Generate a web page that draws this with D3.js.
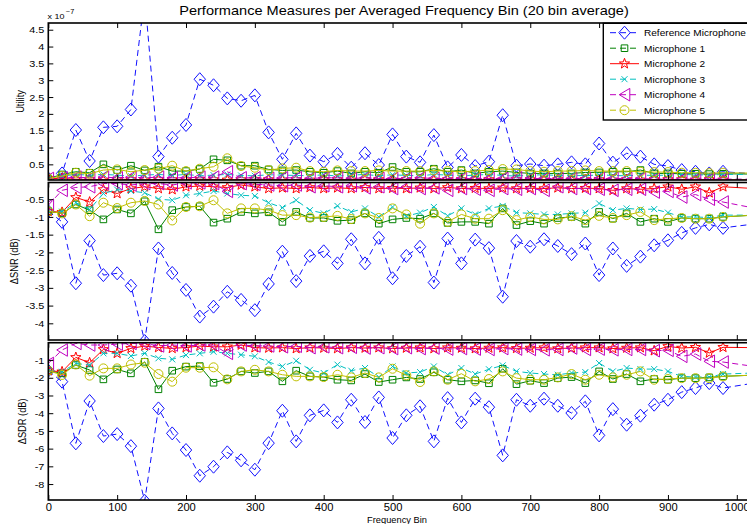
<!DOCTYPE html>
<html><head><meta charset="utf-8">
<script src="https://cdn.jsdelivr.net/npm/d3@7"></script>
<style>body{margin:0;background:#fff}svg{display:block;font-family:"Liberation Sans",Arial,Helvetica,sans-serif}</style>
</head><body>
<script>
// ---------- data ----------
const bins = [0,20,40,60,80,100,120,140,160,180,200,220,240,260,280,300,320,340,360,380,400,420,440,460,480,500,520,540,560,580,600,620,640,660,680,700,720,740,760,780,800,820,840,860,880,900,920,940,960,980,1025];
const seriesNames = ["Reference Microphone","Microphone 1","Microphone 2","Microphone 3","Microphone 4","Microphone 5"];
const xTicks = [0,100,200,300,400,500,600,700,800,900,1000];
const utilityTicks = [0.5,1,1.5,2,2.5,3,3.5,4,4.5];
const snrTicks = [-0.5,-1,-1.5,-2,-2.5,-3,-3.5,-4];
const sdrTicks = [-1,-2,-3,-4,-5,-6,-7,-8];

// Utility (x 1e-7)
const utilRef  = [0.08,0.23,1.52,0.6,1.6,1.63,2.13,5.5,0.73,1.29,1.67,3.03,2.85,2.46,2.39,2.55,1.45,0.65,1.42,0.76,0.58,0.81,0.4,0.83,0.48,1.39,0.73,0.56,1.37,0.41,0.78,0.45,0.58,1.96,0.46,0.51,0.46,0.5,0.56,0.5,1.12,0.55,0.83,0.73,0.5,0.45,0.33,0.28,0.23,0.28,0.22];
const utilMic1 = [0.08,0.2,0.28,0.25,0.5,0.33,0.46,0.32,0.43,0.3,0.3,0.36,0.65,0.62,0.46,0.46,0.35,0.32,0.33,0.28,0.25,0.3,0.23,0.28,0.25,0.42,0.28,0.28,0.37,0.28,0.33,0.23,0.28,0.3,0.26,0.23,0.23,0.23,0.23,0.26,0.26,0.28,0.28,0.33,0.23,0.23,0.22,0.22,0.21,0.22,0.21];
const utilMic2 = [0.08,0.08,0.06,0.05,0.04,0.06,0.05,0.04,0.05,0.05,0.04,0.06,0.05,0.04,0.05,0.06,0.05,0.04,0.05,0.04,0.05,0.05,0.04,0.05,0.05,0.04,0.05,0.05,0.04,0.05,0.05,0.04,0.05,0.04,0.05,0.05,0.04,0.05,0.04,0.05,0.05,0.04,0.05,0.04,0.05,0.05,0.05,0.04,0.05,0.04,0.04];
const utilMic3 = [0.08,0.15,0.2,0.18,0.2,0.18,0.15,0.18,0.2,0.17,0.2,0.16,0.18,0.2,0.17,0.16,0.19,0.18,0.17,0.16,0.19,0.15,0.18,0.2,0.16,0.19,0.17,0.16,0.2,0.18,0.16,0.18,0.2,0.17,0.15,0.18,0.19,0.17,0.18,0.16,0.19,0.17,0.16,0.18,0.17,0.18,0.2,0.19,0.18,0.2,0.2];
const utilMic4 = [0.08,0.1,0.12,0.1,0.12,0.1,0.12,0.1,0.12,0.1,0.1,0.12,0.12,0.28,0.1,0.1,0.08,0.1,0.1,0.08,0.1,0.1,0.08,0.1,0.08,0.08,0.08,0.1,0.08,0.08,0.08,0.08,0.08,0.08,0.1,0.08,0.08,0.08,0.08,0.08,0.08,0.08,0.08,0.08,0.06,0.06,0.06,0.06,0.06,0.06,0.06];
const utilMic5 = [0.08,0.15,0.25,0.22,0.33,0.35,0.28,0.33,0.37,0.46,0.3,0.37,0.43,0.68,0.45,0.4,0.33,0.38,0.4,0.3,0.28,0.32,0.3,0.3,0.32,0.3,0.3,0.3,0.32,0.3,0.28,0.3,0.33,0.36,0.35,0.3,0.28,0.3,0.3,0.32,0.3,0.3,0.3,0.28,0.27,0.27,0.25,0.25,0.24,0.25,0.24];

// Delta SNR (dB)
const snrRef  = [-0.84,-1.14,-2.87,-1.67,-2.64,-2.59,-2.94,-4.5,-1.89,-2.58,-3.06,-3.81,-3.53,-3.11,-3.34,-3.63,-2.89,-1.98,-2.81,-2.1,-1.97,-2.31,-1.63,-2.31,-1.59,-2.73,-2.1,-1.84,-2.85,-1.61,-2.31,-1.64,-1.88,-3.25,-1.68,-1.84,-1.63,-1.82,-2.05,-1.75,-2.64,-1.89,-2.38,-2.12,-1.8,-1.66,-1.45,-1.31,-1.21,-1.31,-1.2];
const snrMic1 = [-0.84,-0.9,-0.65,-0.81,-1.07,-0.79,-0.9,-0.56,-1.35,-0.81,-0.72,-0.7,-1.16,-1.05,-0.86,-0.9,-0.87,-1.14,-0.86,-1.03,-1.03,-1.11,-1.09,-0.9,-1.19,-1.07,-1.03,-1.05,-0.9,-1.17,-1.14,-1.14,-1.19,-0.76,-1.23,-1.12,-1.19,-1.03,-1.0,-1.19,-0.86,-1.05,-0.9,-1.14,-1.05,-1.14,-1.03,-1.05,-1.05,-1.0,-0.95];
const snrMic2 = [-0.84,-0.87,-0.45,-0.58,-0.23,-0.34,-0.2,-0.15,-0.2,-0.23,-0.15,-0.13,-0.15,-0.17,-0.1,-0.15,-0.2,-0.18,-0.2,-0.17,-0.2,-0.18,-0.2,-0.17,-0.2,-0.19,-0.2,-0.18,-0.2,-0.17,-0.2,-0.19,-0.2,-0.18,-0.2,-0.19,-0.2,-0.18,-0.2,-0.19,-0.2,-0.25,-0.2,-0.22,-0.2,-0.15,-0.22,-0.15,-0.32,-0.15,-0.2];
const snrMic3 = [-0.84,-0.85,-0.6,-0.79,-0.34,-0.23,-0.27,-0.32,-0.5,-0.53,-0.39,-0.34,-0.27,-0.34,-0.39,-0.41,-0.6,-0.74,-0.53,-0.81,-0.9,-0.69,-0.86,-0.76,-1.0,-0.72,-0.98,-0.88,-0.72,-0.97,-0.76,-0.93,-0.76,-0.69,-0.88,-0.9,-0.93,-0.93,-0.9,-0.88,-0.62,-0.81,-0.76,-0.79,-0.78,-0.88,-1.0,-1.0,-1.02,-0.95,-0.95];
const snrMic4 = [-0.67,-0.25,-0.17,-0.15,-0.06,-0.06,-0.1,-0.06,-0.06,-0.1,-0.04,-0.04,-0.06,-0.28,-0.06,-0.08,-0.1,-0.12,-0.1,-0.15,-0.12,-0.15,-0.12,-0.18,-0.15,-0.2,-0.15,-0.2,-0.18,-0.25,-0.2,-0.22,-0.25,-0.2,-0.22,-0.2,-0.25,-0.15,-0.2,-0.2,-0.22,-0.25,-0.22,-0.22,-0.3,-0.28,-0.44,-0.37,-0.5,-0.58,-0.75];
const snrMic5 = [-0.84,-0.9,-0.65,-0.98,-0.6,-0.75,-0.6,-0.55,-0.65,-1.1,-0.72,-0.7,-0.53,-0.9,-0.76,-0.76,-0.81,-0.95,-0.95,-1.02,-1.0,-0.97,-1.06,-0.9,-1.03,-0.76,-0.93,-1.19,-0.9,-1.14,-0.93,-1.05,-1.05,-0.81,-1.09,-1.0,-1.07,-1.07,-0.98,-1.09,-0.97,-1.03,-0.95,-0.86,-1.09,-1.05,-1.03,-1.05,-1.05,-1.0,-0.95];

// Delta SDR (dB)
const sdrRef  = [-1.6,-2.22,-5.7,-3.31,-5.29,-5.18,-5.86,-8.95,-3.73,-5.14,-6.08,-7.53,-7.02,-6.21,-6.66,-7.19,-5.69,-3.86,-5.59,-4.12,-3.84,-4.52,-3.24,-4.5,-3.11,-5.4,-4.12,-3.61,-5.59,-3.15,-4.52,-3.18,-3.66,-6.38,-3.24,-3.58,-3.18,-3.58,-3.99,-3.33,-5.25,-3.77,-4.65,-4.14,-3.52,-3.24,-2.81,-2.58,-2.3,-2.58,-2.3];
const sdrMic1 = [-1.6,-1.75,-1.28,-1.56,-2.09,-1.53,-1.75,-1.1,-2.65,-1.6,-1.37,-1.34,-2.28,-2.07,-1.64,-1.73,-1.64,-2.2,-1.6,-1.92,-1.96,-2.11,-2.15,-1.79,-2.24,-2.11,-1.98,-2.07,-1.69,-2.11,-2.2,-2.15,-2.31,-1.49,-2.36,-2.17,-2.3,-2.02,-1.96,-2.3,-1.64,-2.07,-1.79,-2.2,-2.07,-2.11,-2.02,-2.02,-1.98,-1.92,-1.85];
const sdrMic2 = [-1.6,-1.66,-0.85,-1.15,-0.4,-0.62,-0.34,-0.21,-0.29,-0.34,-0.29,-0.21,-0.25,-0.25,-0.15,-0.3,-0.32,-0.3,-0.35,-0.3,-0.32,-0.35,-0.3,-0.32,-0.3,-0.35,-0.32,-0.3,-0.35,-0.3,-0.32,-0.35,-0.32,-0.3,-0.34,-0.32,-0.3,-0.35,-0.32,-0.3,-0.3,-0.35,-0.32,-0.3,-0.47,-0.23,-0.32,-0.28,-0.6,-0.28,-0.3];
const sdrMic3 = [-1.6,-1.66,-1.19,-1.28,-0.62,-0.62,-0.77,-0.62,-0.9,-0.96,-0.72,-0.62,-0.53,-0.62,-0.7,-0.79,-1.11,-1.36,-1.04,-1.55,-1.73,-1.26,-1.6,-1.45,-1.96,-1.36,-1.73,-1.68,-1.36,-1.83,-1.45,-1.79,-1.52,-1.3,-1.64,-1.73,-1.79,-1.83,-1.73,-1.68,-1.17,-1.64,-1.45,-1.51,-1.51,-1.64,-1.92,-1.96,-1.96,-1.79,-1.73];
const sdrMic4 = [-1.19,-0.43,-0.06,-0.15,-0.15,-0.1,-0.06,-0.06,-0.2,-0.15,-0.2,-0.15,-0.15,-0.62,-0.15,-0.2,-0.2,-0.25,-0.22,-0.3,-0.25,-0.3,-0.28,-0.32,-0.3,-0.35,-0.3,-0.35,-0.32,-0.38,-0.35,-0.38,-0.4,-0.35,-0.38,-0.4,-0.42,-0.4,-0.32,-0.4,-0.38,-0.42,-0.4,-0.4,-0.47,-0.45,-0.79,-0.66,-1.07,-1.11,-1.36];
const sdrMic5 = [-1.6,-1.84,-1.25,-1.88,-1.47,-1.47,-1.25,-1.15,-1.79,-2.22,-1.43,-1.43,-1.41,-2.09,-1.64,-1.55,-1.64,-1.83,-1.92,-1.92,-1.96,-1.83,-1.98,-1.73,-1.98,-1.49,-1.86,-2.24,-1.64,-2.11,-1.77,-2.2,-2.07,-1.64,-2.02,-2.11,-2.11,-1.98,-1.79,-2.11,-1.83,-1.98,-1.83,-1.64,-2.11,-2.07,-2.02,-2.02,-2.02,-1.92,-1.85];

// ---------- styling ----------
const W = 747, H = 524;
const FONT = '"Liberation Sans",Arial,Helvetica,sans-serif';
const SX = 1.12; // horizontal glyph stretch seen in the reference
const styles = [
  {color:"#1010ff", dash:"6,4", marker:"diamond"},
  {color:"#008000", dash:null,  marker:"square", legendDash:"6,4"},
  {color:"#ff0000", dash:null,  marker:"star"},
  {color:"#00bfbf", dash:"6,4", marker:"x"},
  {color:"#bf00bf", dash:"6,4", marker:"tri"},
  {color:"#bfbf00", dash:null,  marker:"circle", legendDash:"6,4"}
];
function starPath(ro, ri){
  let p = [];
  for (let k=0;k<10;k++){
    const r = k%2===0 ? ro : ri;
    const a = -Math.PI/2 + k*Math.PI/5;
    p.push([r*Math.cos(a), r*Math.sin(a)]);
  }
  return "M"+p.map(q=>q[0].toFixed(2)+","+q[1].toFixed(2)).join("L")+"Z";
}
const markerPaths = {
  diamond: "M0,-6.5L5.7,0L0,6.5L-5.7,0Z",
  square: "M-3.3,-3.3h6.6v6.6h-6.6Z",
  star: starPath(5.4, 2.2),
  x: "M-3,-3L3,3M3,-3L-3,3",
  tri: "M-5.3,0L5.3,-6.3L5.3,6.3Z",
  circle: "M4.5,0A4.5,4.5 0 1,1 -4.5,0A4.5,4.5 0 1,1 4.5,0Z"
};
const fmt = d => String(d); // hyphen-minus like the reference

const svg = d3.select("body").append("svg").attr("width", W).attr("height", H)
  .style("font-family", FONT);

const axLeft = 48.3, axRight = 759;
const x = d3.scaleLinear().domain([0,1000]).range([48.3, 736.8]);

const panels = [
  {id:"u", top:23, bottom:180, domain:[0.035,4.7], ticks:utilityTicks, label:"Utility", labelX:23.5,
   series:[utilRef,utilMic1,utilMic2,utilMic3,utilMic4,utilMic5], xLabels:false},
  {id:"s", top:182.5, bottom:340, domain:[-4.47,-0.03], ticks:snrTicks, label:"\u0394SNR (dB)", labelX:17.5,
   series:[snrRef,snrMic1,snrMic2,snrMic3,snrMic4,snrMic5], xLabels:false},
  {id:"d", top:342.7, bottom:500, domain:[-8.9,-0.02], ticks:sdrTicks, label:"\u0394SDR (dB)", labelX:25.5,
   series:[sdrRef,sdrMic1,sdrMic2,sdrMic3,sdrMic4,sdrMic5], xLabels:true}
];

const defs = svg.append("defs");

panels.forEach(p => {
  const y = d3.scaleLinear().domain(p.domain).range([p.bottom, p.top]);
  defs.append("clipPath").attr("id","clip-"+p.id).append("rect")
    .attr("x", axLeft).attr("y", p.top).attr("width", axRight-axLeft).attr("height", p.bottom-p.top);
  const g = svg.append("g").attr("clip-path","url(#clip-"+p.id+")");
  const line = d3.line().x((d,i)=>x(bins[i])).y(d=>y(d));
  p.series.forEach((vals, si) => {
    const st = styles[si];
    g.append("path").datum(vals).attr("d", line)
      .attr("fill","none").attr("stroke", st.color).attr("stroke-width", 1)
      .attr("stroke-dasharray", st.dash);
    g.selectAll(null).data(vals).enter().append("path")
      .attr("d", markerPaths[st.marker])
      .attr("transform",(d,i)=>`translate(${x(bins[i])},${y(d)})`)
      .attr("fill","none").attr("stroke", st.color).attr("stroke-width", 1);
  });

  // y axis (ticks inward)
  const yAx = d3.axisLeft(y).tickValues(p.ticks).tickSizeInner(-5).tickSizeOuter(0).tickPadding(4)
    .tickFormat(fmt);
  const ya = svg.append("g").attr("transform",`translate(${axLeft},0)`).call(yAx);
  ya.select(".domain").remove();
  ya.selectAll("text").attr("font-size",9.7).attr("font-family",FONT).attr("fill","#000")
    .attr("transform",`scale(${SX},1)`).attr("x",-4/SX);
  ya.selectAll("line").attr("stroke","#000");

  // x axes bottom/top (ticks inward)
  const xb = d3.axisBottom(x).tickValues(xTicks).tickSizeInner(-5).tickSizeOuter(0).tickPadding(4)
    .tickFormat(p.xLabels ? fmt : () => "");
  const xa = svg.append("g").attr("transform",`translate(0,${p.bottom})`).call(xb);
  xa.select(".domain").remove();
  xa.selectAll("text").attr("font-size",10).attr("font-family",FONT).attr("fill","#000")
    .attr("transform",`scale(${SX},1)`);
  xa.selectAll(".tick").each(function(){
    // keep label centred on the tick after the stretch
    const t = d3.select(this).attr("transform");
    const tx = +t.match(/translate\(([-\d.]+)/)[1];
    d3.select(this).attr("transform",`translate(${tx},0)`);
  });
  xa.selectAll("line").attr("stroke","#000");
  const xt = d3.axisTop(x).tickValues(xTicks).tickSizeInner(-5).tickSizeOuter(0).tickFormat(()=> "");
  const xta = svg.append("g").attr("transform",`translate(0,${p.top})`).call(xt);
  xta.select(".domain").remove();
  xta.selectAll("line").attr("stroke","#000");

  svg.append("rect").attr("x",axLeft).attr("y",p.top).attr("width",axRight-axLeft).attr("height",p.bottom-p.top)
    .attr("fill","none").attr("stroke","#000").attr("stroke-width",1.6);

  svg.append("text").attr("transform",`translate(${p.labelX},${(p.top+p.bottom)/2}) rotate(-90) scale(1,${SX})`)
    .attr("text-anchor","middle").attr("font-size",9.3).text(p.label);
});

// exponent label
const ex = svg.append("text").attr("transform",`translate(47.5,19) scale(${SX},1)`).attr("font-size",8);
ex.append("tspan").text("x 10");
ex.append("tspan").attr("font-size",6.5).attr("dy",-5.5).attr("dx",1.5).text("\u22127");

// title
svg.append("text").attr("transform",`translate(404,15) scale(${SX},1)`).attr("text-anchor","middle").attr("font-size",13)
  .text("Performance Measures per Averaged Frequency Bin (20 bin average)");

// x label
svg.append("text").attr("transform",`translate(397,522.5) scale(${SX},1)`).attr("text-anchor","middle").attr("font-size",8.3)
  .text("Frequency Bin");

// legend
const lg = svg.append("g");
lg.append("rect").attr("x",603.3).attr("y",23.3).attr("width",152).attr("height",96.7)
  .attr("fill","#fff").attr("stroke","#000").attr("stroke-width",1.4);
seriesNames.forEach((name, i) => {
  const st = styles[i];
  const yy = 32.7 + i*15.5;
  lg.append("line").attr("x1",610).attr("x2",639).attr("y1",yy).attr("y2",yy)
    .attr("stroke",st.color).attr("stroke-width",1)
    .attr("stroke-dasharray", st.legendDash || st.dash);
  lg.append("path").attr("d", markerPaths[st.marker]).attr("transform",`translate(624.5,${yy})`)
    .attr("fill","none").attr("stroke",st.color).attr("stroke-width",1);
  lg.append("text").attr("transform",`translate(644,${yy+3.3}) scale(${SX},1)`).attr("font-size",9).text(name);
});
</script>
</body></html>
